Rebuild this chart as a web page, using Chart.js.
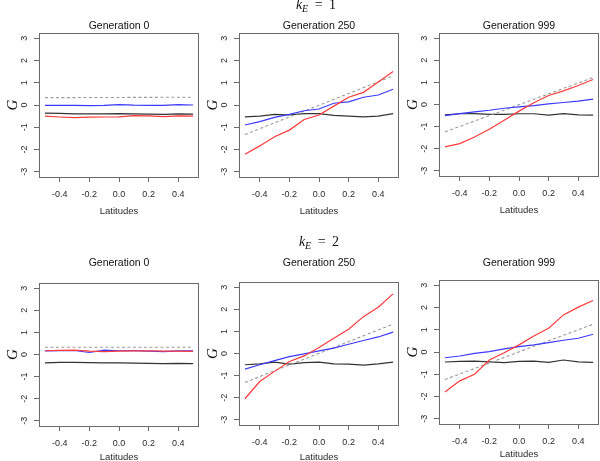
<!DOCTYPE html>
<html>
<head>
<meta charset="utf-8">
<script src="https://cdn.jsdelivr.net/npm/chart.js@4.4.1/dist/chart.umd.min.js"></script>
<style>
  body { margin: 0; background: #fff; }
  #wrap { position: relative; width: 600px; height: 461px; overflow: hidden; }
  canvas { position: absolute; display: block; }
  .ke { position: absolute; transform: translateX(-50%); font: 14px/14px "Liberation Serif", serif; color: #111; white-space: nowrap; word-spacing: 3px; }
  .ke sub { font-size: 10px; vertical-align: -3px; font-style: italic; }
</style>
</head>
<body>
<div id="wrap"></div>
<script>
// x positions shared by every panel
const LATITUDES = [-0.5, -0.4, -0.3, -0.2, -0.1, 0.0, 0.1, 0.2, 0.3, 0.4, 0.5];
const DASH_X = [-0.5, 0.5];
const X_TICKS = [-0.4, -0.2, 0.0, 0.2, 0.4];
const Y_TICKS = [-3, -2, -1, 0, 1, 2, 3];
const K_E = [1, 2];
const GENERATIONS = ['Generation 0', 'Generation 250', 'Generation 999'];

// k_E = 1
const k1g0Red    = [-0.50, -0.54, -0.57, -0.55, -0.54, -0.53, -0.48, -0.49, -0.52, -0.49, -0.50];
const k1g0Blue   = [-0.02, -0.02, -0.02, -0.03, -0.02, 0.02, -0.01, -0.02, -0.02, 0.02, 0.00];
const k1g0Black  = [-0.37, -0.38, -0.40, -0.40, -0.40, -0.39, -0.40, -0.41, -0.42, -0.40, -0.41];
const k1g0Dashed = [0.33, 0.35];

const k1g250Red    = [-2.22, -1.84, -1.43, -1.13, -0.65, -0.45, -0.05, 0.35, 0.57, 1.03, 1.51];
const k1g250Blue   = [-0.90, -0.75, -0.56, -0.42, -0.26, -0.18, 0.08, 0.14, 0.35, 0.45, 0.71];
const k1g250Black  = [-0.53, -0.50, -0.42, -0.45, -0.39, -0.39, -0.47, -0.50, -0.53, -0.50, -0.39];
const k1g250Dashed = [-1.33, 1.31];

const k1g999Red    = [-1.92, -1.77, -1.47, -1.12, -0.71, -0.30, 0.08, 0.41, 0.62, 0.86, 1.13];
const k1g999Blue   = [-0.50, -0.41, -0.33, -0.26, -0.17, -0.11, -0.05, 0.03, 0.09, 0.15, 0.24];
const k1g999Black  = [-0.47, -0.42, -0.41, -0.45, -0.45, -0.42, -0.42, -0.48, -0.41, -0.47, -0.48];
const k1g999Dashed = [-1.24, 1.22];

// k_E = 2
const k2g0Red    = [0.17, 0.19, 0.20, 0.15, 0.13, 0.15, 0.16, 0.17, 0.15, 0.15, 0.14];
const k2g0Blue   = [0.16, 0.18, 0.18, 0.09, 0.20, 0.17, 0.18, 0.15, 0.13, 0.16, 0.17];
const k2g0Black  = [-0.38, -0.36, -0.36, -0.37, -0.38, -0.38, -0.39, -0.40, -0.41, -0.40, -0.41];
const k2g0Dashed = [0.33, 0.33];

const k2g250Red    = [-2.05, -1.27, -0.81, -0.36, -0.11, 0.27, 0.69, 1.10, 1.67, 2.10, 2.70];
const k2g250Blue   = [-0.71, -0.51, -0.32, -0.14, -0.02, 0.12, 0.24, 0.42, 0.59, 0.75, 0.97];
const k2g250Black  = [-0.51, -0.47, -0.39, -0.48, -0.41, -0.39, -0.47, -0.48, -0.53, -0.47, -0.39];
const k2g250Dashed = [-1.31, 1.33];

const k2g999Red    = [-1.80, -1.30, -1.00, -0.36, -0.03, 0.32, 0.72, 1.07, 1.67, 2.02, 2.32];
const k2g999Blue   = [-0.26, -0.18, -0.06, 0.02, 0.14, 0.24, 0.32, 0.42, 0.53, 0.62, 0.80];
const k2g999Black  = [-0.45, -0.42, -0.41, -0.44, -0.48, -0.42, -0.41, -0.47, -0.36, -0.44, -0.47];
const k2g999Dashed = [-1.24, 1.25];

const SERIES = [
  [k1g0Red, k1g0Blue, k1g0Black, k1g0Dashed],
  [k1g250Red, k1g250Blue, k1g250Black, k1g250Dashed],
  [k1g999Red, k1g999Blue, k1g999Black, k1g999Dashed],
  [k2g0Red, k2g0Blue, k2g0Black, k2g0Dashed],
  [k2g250Red, k2g250Blue, k2g250Black, k2g250Dashed],
  [k2g999Red, k2g999Blue, k2g999Black, k2g999Dashed]
];

// placement of each panel (canvas coords)
const PANEL_W = 200;
const ROW_TOP = [0, 230];
const ROW_H = [230, 231];
const BOXES = [
  {top: 33, bottom: 177, title: 25.7, xlab: 211},
  {top: 33, bottom: 177, title: 25.7, xlab: 211},
  {top: 33, bottom: 176, title: 25.7, xlab: 210.7},
  {top: 53, bottom: 196, title: 33.3, xlab: 227.7},
  {top: 52, bottom: 195, title: 33.3, xlab: 227},
  {top: 50, bottom: 194, title: 33.3, xlab: 224}
];

const AXIS_COLOR = '#6a6a6a';
const TEXT_COLOR = '#2a2a2a';
const SANS = '"Liberation Sans", Arial, sans-serif';
const SERIF = '"Liberation Serif", "Times New Roman", serif';

const toXY = (xs, ys) => ys.map((y, i) => ({x: xs[i], y: y}));

const panelDecor = {
  id: 'panelDecor',
  afterDraw(chart) {
    const {ctx, chartArea: a} = chart;
    const box = chart.options.plugins.panelDecor;
    const yScale = chart.scales.y;
    const cx = (a.left + a.right) / 2;
    ctx.save();
    // plot frame
    ctx.strokeStyle = AXIS_COLOR;
    ctx.lineWidth = 1;
    ctx.strokeRect(a.left + 0.5, a.top + 0.5, a.right - a.left - 1, a.bottom - a.top);

    ctx.fillStyle = TEXT_COLOR;
    ctx.textAlign = 'center';
    ctx.textBaseline = 'middle';

    // y tick labels, rotated like R's las = 0
    ctx.font = '9px ' + SANS;
    Y_TICKS.forEach(v => {
      ctx.save();
      ctx.translate(25, yScale.getPixelForValue(v));
      ctx.rotate(-Math.PI / 2);
      ctx.fillText(String(v), 0, 0);
      ctx.restore();
    });

    // y axis title
    ctx.save();
    ctx.font = 'italic 15px ' + SERIF;
    ctx.fillStyle = '#111';
    ctx.translate(13, (a.top + a.bottom) / 2);
    ctx.rotate(-Math.PI / 2);
    ctx.fillText('G', 0, 0);
    ctx.restore();

    ctx.fillStyle = '#111';
    ctx.font = '10.5px ' + SANS;
    ctx.fillText(box.title, cx, box.titleY);

    ctx.fillStyle = TEXT_COLOR;
    ctx.font = '9.5px ' + SANS;
    ctx.fillText('Latitudes', cx, box.xlabY);
    ctx.restore();
  }
};

function makePanel(idx) {
  const row = Math.floor(idx / 3);
  const col = idx % 3;
  const box = BOXES[idx];
  const h = ROW_H[row];
  const [red, blue, black, dashed] = SERIES[idx];

  const canvas = document.createElement('canvas');
  canvas.width = PANEL_W;
  canvas.height = h;
  canvas.style.left = (col * PANEL_W) + 'px';
  canvas.style.top = ROW_TOP[row] + 'px';
  document.getElementById('wrap').appendChild(canvas);

  const line = (data, color, extra) => Object.assign({
    data: data,
    borderColor: color,
    borderWidth: 1.2,
    pointRadius: 0,
    tension: 0,
    fill: false
  }, extra || {});

  return new Chart(canvas, {
    type: 'line',
    data: {
      datasets: [
        line(toXY(LATITUDES, red), '#ff3a3a'),
        line(toXY(LATITUDES, blue), '#3a3aff'),
        line(toXY(DASH_X, dashed), '#9a9a9a', {borderDash: [3, 2.5], borderWidth: 1.1}),
        line(toXY(LATITUDES, black), '#333333')
      ]
    },
    options: {
      responsive: false,
      animation: false,
      events: [],
      layout: {padding: {top: box.top, right: 1, bottom: 0, left: 0}},
      plugins: {
        legend: {display: false},
        tooltip: {enabled: false},
        panelDecor: {title: GENERATIONS[col], titleY: box.title, xlabY: box.xlab}
      },
      scales: {
        x: {
          type: 'linear',
          min: -0.54,
          max: 0.54,
          afterBuildTicks: s => { s.ticks = X_TICKS.map(v => ({value: v})); },
          afterFit: s => { s.height = h - box.bottom; },
          border: {display: false},
          grid: {drawOnChartArea: false, drawTicks: true, tickLength: 5, color: AXIS_COLOR},
          ticks: {
            color: TEXT_COLOR,
            font: {family: SANS, size: 9},
            padding: 7,
            maxRotation: 0,
            autoSkip: false,
            callback: v => v.toFixed(1)
          }
        },
        y: {
          type: 'linear',
          min: -3.24,
          max: 3.24,
          afterBuildTicks: s => { s.ticks = Y_TICKS.map(v => ({value: v})); },
          afterFit: s => { s.width = 39; },
          border: {display: false},
          grid: {drawOnChartArea: false, drawTicks: true, tickLength: 5, color: AXIS_COLOR},
          ticks: {display: false}
        }
      }
    },
    plugins: [panelDecor]
  });
}

for (let i = 0; i < 6; i++) makePanel(i);

// row headings k_E = 1, k_E = 2
const KE_POS = [{left: 316, top: -2}, {left: 319, top: 235}];
K_E.forEach((k, r) => {
  const d = document.createElement('div');
  d.className = 'ke';
  d.style.left = KE_POS[r].left + 'px';
  d.style.top = KE_POS[r].top + 'px';
  d.innerHTML = '<i>k</i><sub>E</sub> = ' + k;
  document.getElementById('wrap').appendChild(d);
});
</script>
</body>
</html>
